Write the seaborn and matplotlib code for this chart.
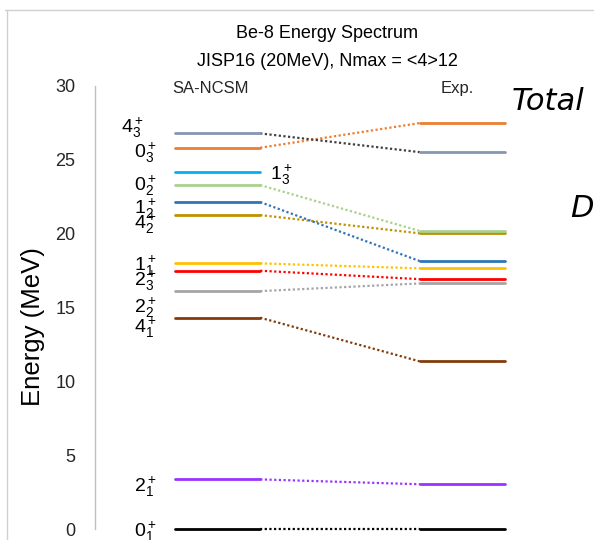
import matplotlib
matplotlib.use("Agg")
import matplotlib.pyplot as plt
from matplotlib import font_manager
from matplotlib.lines import Line2D
import pandas as pd
import seaborn as sns

# Be-8 positive-parity states (J_n), SA-NCSM vs experiment, energies in MeV
states = ["0_1", "2_1", "4_1", "2_2", "2_3", "1_1", "4_2", "1_2", "0_2", "1_3", "0_3", "4_3"]
state_labels = [r"$0_1^+$", r"$2_1^+$", r"$4_1^+$", r"$2_2^+$", r"$2_3^+$", r"$1_1^+$",
                r"$4_2^+$", r"$1_2^+$", r"$0_2^+$", r"$1_3^+$", r"$0_3^+$", r"$4_3^+$"]
e_sancsm = [0.0, 3.36, 14.31, 16.11, 17.49, 17.99, 21.26, 22.14, 23.29, 24.17, 25.82, 26.79]
e_exp = [0.0, 3.03, 11.35, 16.63, 16.92, 17.65, 20.02, 18.14, 20.18, None, 27.49, 25.52]
y_ticks = [0, 5, 10, 15, 20, 25, 30]

level_colors = ["#000000", "#9933FF", "#843C0C", "#A5A5A5", "#FF0000", "#FFC000",
                "#BF9000", "#2E75B6", "#A9D18E", "#00B0F0", "#ED7D31", "#8497B0"]
link_colors = ["#000000", "#9933FF", "#843C0C", "#A5A5A5", "#FF0000", "#FFC000",
               "#BF9000", "#2E75B6", "#A9D18E", "#00B0F0", "#ED7D31", "#404040"]

# layout (x in axes units 0..100, label heights in MeV)
TH_X = (16.0, 33.1)
EXP_X = (65.1, 82.2)
label_x = {s: 12.4 for s in states}
label_x["4_3"] = 9.8
label_y = {"0_1": -0.55, "2_1": 2.51, "4_1": 13.27, "2_2": 14.62, "2_3": 16.45,
           "1_1": 17.47, "4_2": 20.31, "1_2": 21.33, "0_2": 22.88, "0_3": 25.12,
           "4_3": 26.81}

sns.set_theme(style="white")
available = {f.name for f in font_manager.fontManager.ttflist}
main_font = next(f for f in ["Liberation Sans Narrow", "Liberation Sans", "DejaVu Sans"]
                 if f in available)
plt.rcParams["font.family"] = [main_font, "DejaVu Sans"]
plt.rcParams["mathtext.default"] = "regular"

# long tables of segment end points
lev_rows, link_rows = [], []
for s, eth, eex in zip(states, e_sancsm, e_exp):
    for x in TH_X:
        lev_rows.append({"state": s, "seg": s + "_th", "x": x, "E": eth})
    if eex is not None:
        for x in EXP_X:
            lev_rows.append({"state": s, "seg": s + "_exp", "x": x, "E": eex})
        link_rows.append({"state": s, "x": TH_X[1], "E": eth})
        link_rows.append({"state": s, "x": EXP_X[0], "E": eex})
levels = pd.DataFrame(lev_rows)
links = pd.DataFrame(link_rows)

fig = plt.figure(figsize=(5.94, 5.4), dpi=100)
ax = fig.add_axes([95 / 594, 11 / 540, 499 / 594, 443 / 540])

sns.lineplot(data=links, x="x", y="E", hue="state", units="state", estimator=None,
             palette=dict(zip(states, link_colors)), legend=False, sort=False,
             linewidth=1.6, linestyle=(0, (1, 1.1)), clip_on=False, ax=ax)
sns.lineplot(data=levels, x="x", y="E", hue="state", units="seg", estimator=None,
             palette=dict(zip(states, level_colors)), legend=False, sort=False,
             linewidth=2.0, clip_on=False, ax=ax)

ax.set_xlim(0, 100)
ax.set_ylim(0, 30)
ax.set_yticks(y_ticks)
ax.set_yticklabels([str(t) for t in y_ticks])
ax.tick_params(axis="y", length=0, pad=14, labelsize=13, labelcolor="#262626")
ax.set_xticks([])
ax.set_xlabel("")
ax.set_ylabel("Energy (MeV)", fontsize=18.5, color="#000000")
ax.yaxis.set_label_coords(-0.10, 0.456)
for side in ["top", "right", "bottom"]:
    ax.spines[side].set_visible(False)
ax.spines["left"].set_color("#BFBFBF")
ax.spines["left"].set_linewidth(1.0)

# state labels
for s, lab in zip(states, state_labels):
    if s == "1_3":
        ax.text(35.1, 23.63, lab, ha="left", va="baseline", fontsize=14, color="#000000")
    else:
        ax.text(label_x[s], label_y[s], lab, ha="right", va="baseline", fontsize=14,
                color="#000000", clip_on=False)

ax.text(23.2, 29.86, "SA-NCSM", ha="center", va="center", fontsize=12, color="#262626")
ax.text(72.5, 29.86, "Exp.", ha="center", va="center", fontsize=12, color="#262626")

fig.text(327 / 594, 1 - 33 / 540, "Be-8 Energy Spectrum", ha="center", va="center",
         fontsize=13, color="#000000")
fig.text(327 / 594, 1 - 61 / 540, "JISP16 (20MeV), Nmax = <4>12", ha="center",
         va="center", fontsize=13, color="#000000")

fig.text(512 / 594, 1 - 110 / 540, "Total", ha="left", va="baseline", fontsize=22,
         style="italic", family="DejaVu Sans", color="#000000")
fig.text(570 / 594, 1 - 217 / 540, "D", ha="left", va="baseline", fontsize=22,
         style="italic", family="DejaVu Sans", color="#000000")

# slide frame edges
fig.add_artist(Line2D([5 / 594, 1], [1 - 10 / 540] * 2, transform=fig.transFigure,
                      color="#D0D0D0", linewidth=1.0))
fig.add_artist(Line2D([7 / 594] * 2, [0, 1 - 10 / 540], transform=fig.transFigure,
                      color="#D0D0D0", linewidth=1.0))

fig.savefig("out.png", dpi=100)
